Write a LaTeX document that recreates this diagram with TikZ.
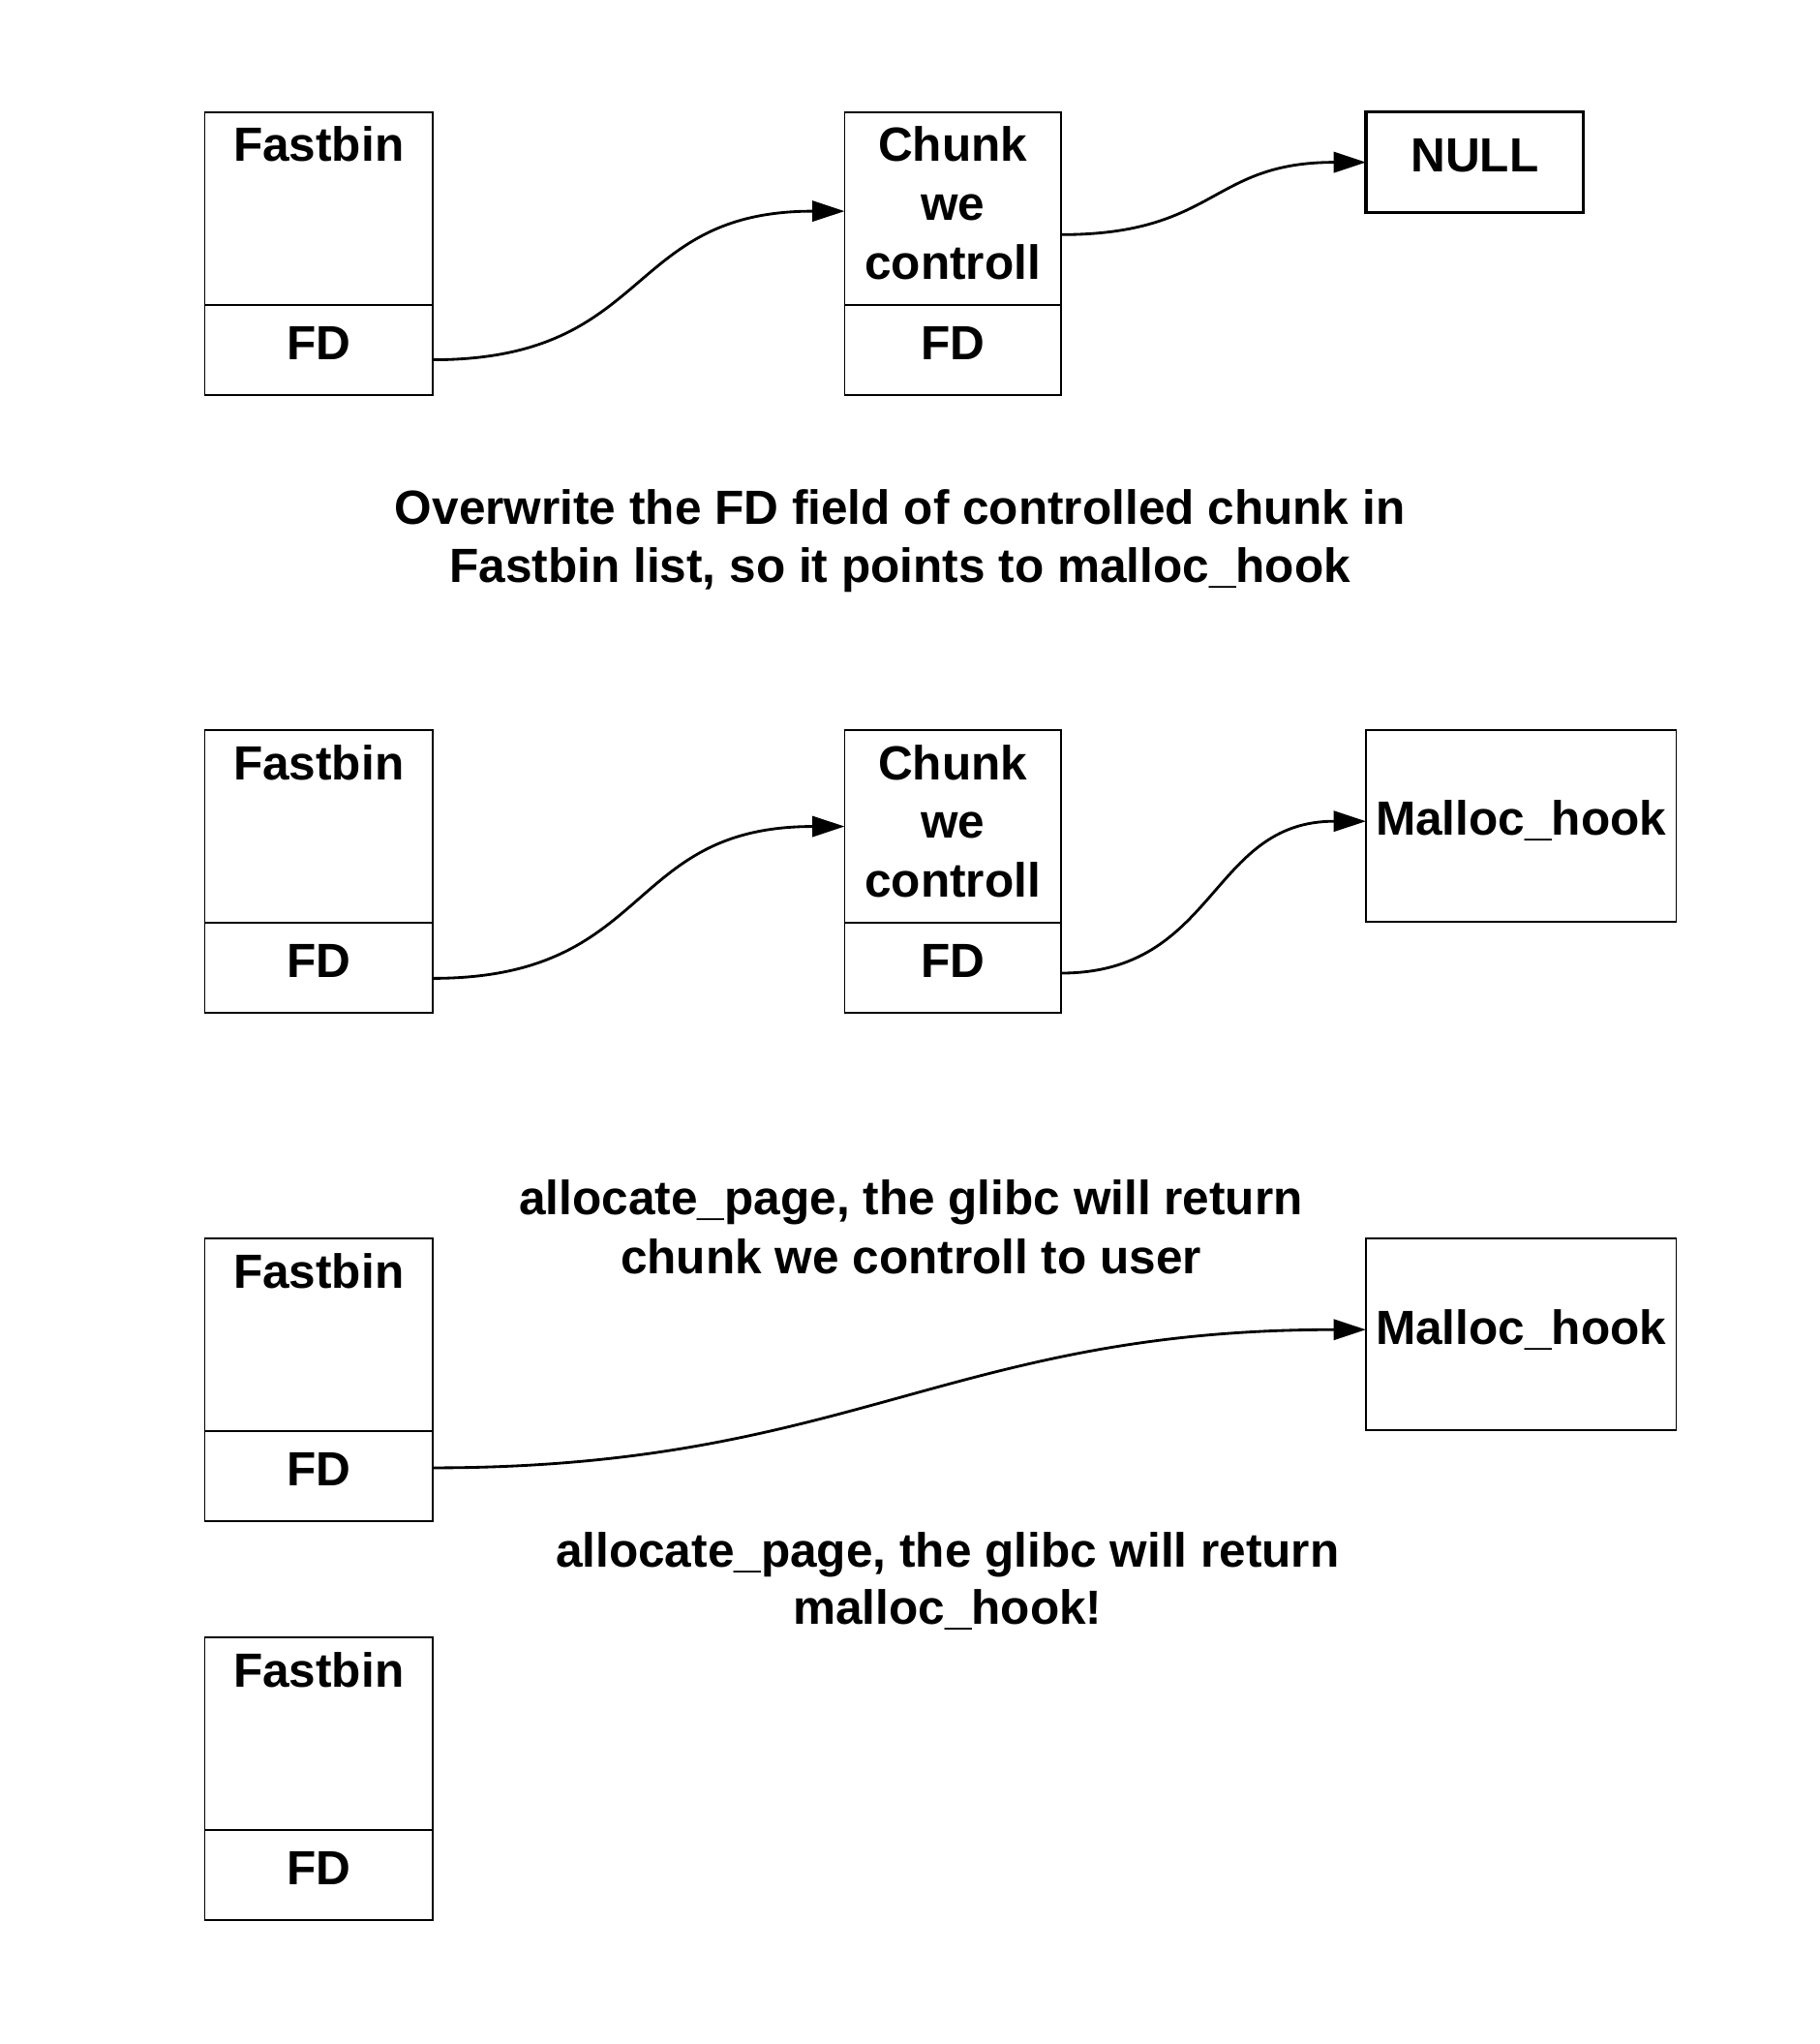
\documentclass[tikz,border=0pt]{standalone}
\usepackage{fontspec}
\setmainfont{Liberation Sans}
\usetikzlibrary{arrows.meta}
\begin{document}
\begin{tikzpicture}[x=0.5pt,y=-0.5pt,
  box/.style={draw, line width=0.6pt, anchor=north west, inner sep=0pt, outer sep=0pt},
  fbtop/.style={box, minimum width=87.5pt, minimum height=74pt},
  fbbot/.style={box, minimum width=87.5pt, minimum height=34.5pt},
  chtop/.style={box, minimum width=83pt, minimum height=74pt},
  chbot/.style={box, minimum width=83pt, minimum height=34.5pt},
  hookbox/.style={box, minimum width=119pt, minimum height=73.5pt},
  lbl/.style={font=\bfseries\fontsize{18.4}{22.5}\selectfont, anchor=base, inner sep=0pt},
  ptr/.style={-{Triangle[length=12.4pt,width=7.9pt]}, line width=1.05pt}]
\useasboundingbox (0,0) rectangle (1396,1568);

% ---------- row 1 ----------
\node[fbtop] (fb1) at (157,86) {};
\node[fbbot] (fd1) at (157,234) {};
\node[lbl] (fb1t) at (244.5,124) {Fastbin};
\node[lbl] (fd1t) at (244.5,276) {FD};
\node[chtop] (ch1) at (648,86) {};
\node[chbot] (cfd1) at (648,234) {};
\node[lbl] (ch1a) at (731,124) {Chunk};
\node[lbl] (ch1b) at (731,169) {we};
\node[lbl] (ch1c) at (731,214) {controll};
\node[lbl] (cfd1t) at (731,276) {FD};
\node[box, line width=1.2pt, minimum width=83.5pt, minimum height=38.5pt] (null) at (1048,86) {};
\node[lbl] (nullt) at (1131.5,132) {NULL};
\draw[ptr] ([yshift=-3.75pt]fd1.east) .. controls +(85pt,0) and +(-85pt,0) .. ([yshift=-1pt]ch1.west);
\draw[ptr] ([yshift=-10pt]ch1.east) .. controls +(60pt,0) and +(-60pt,0) .. (null.west);

% ---------- caption 1 ----------
\node[lbl] (cap1a) at (690.5,402) {Overwrite the FD field of controlled chunk in};
\node[lbl] (cap1b) at (690.5,447) {Fastbin list, so it points to malloc\_hook};

% ---------- row 2 ----------
\node[fbtop] (fb2) at (157,560) {};
\node[fbbot] (fd2) at (157,708) {};
\node[lbl] (fb2t) at (244.5,598) {Fastbin};
\node[lbl] (fd2t) at (244.5,750) {FD};
\node[chtop] (ch2) at (648,560) {};
\node[chbot] (cfd2) at (648,708) {};
\node[lbl] (ch2a) at (731,598) {Chunk};
\node[lbl] (ch2b) at (731,643) {we};
\node[lbl] (ch2c) at (731,688) {controll};
\node[lbl] (cfd2t) at (731,750) {FD};
\node[hookbox] (mh2) at (1048,560) {};
\node[lbl] (mh2t) at (1167,641) {Malloc\_hook};
\draw[ptr] ([yshift=-4pt]fd2.east) .. controls +(85pt,0) and +(-85pt,0) .. (ch2.west);
\draw[ptr] ([yshift=-2pt]cfd2.east) .. controls +(60pt,0) and +(-60pt,0) .. ([yshift=1.75pt]mh2.west);

% ---------- caption 2 ----------
\node[lbl] (cap2a) at (699,932) {allocate\_page, the glibc will return};
\node[lbl] (cap2b) at (699,977) {chunk we controll to user};

% ---------- row 3 ----------
\node[fbtop] (fb3) at (157,950) {};
\node[fbbot] (fd3) at (157,1098) {};
\node[lbl] (fb3t) at (244.5,988) {Fastbin};
\node[lbl] (fd3t) at (244.5,1140) {FD};
\node[hookbox] (mh3) at (1048,950) {};
\node[lbl] (mh3t) at (1167,1031) {Malloc\_hook};
\draw[ptr] ([yshift=3.25pt]fd3.east) .. controls +(160pt,0) and +(-160pt,0) .. ([yshift=1.75pt]mh3.west);

% ---------- caption 3 ----------
\node[lbl] (cap3a) at (727,1202) {allocate\_page, the glibc will return};
\node[lbl] (cap3b) at (727,1246) {malloc\_hook!};

% ---------- row 4 ----------
\node[fbtop] (fb4) at (157,1256) {};
\node[fbbot] (fd4) at (157,1404) {};
\node[lbl] (fb4t) at (244.5,1294) {Fastbin};
\node[lbl] (fd4t) at (244.5,1446) {FD};
\end{tikzpicture}
\end{document}
